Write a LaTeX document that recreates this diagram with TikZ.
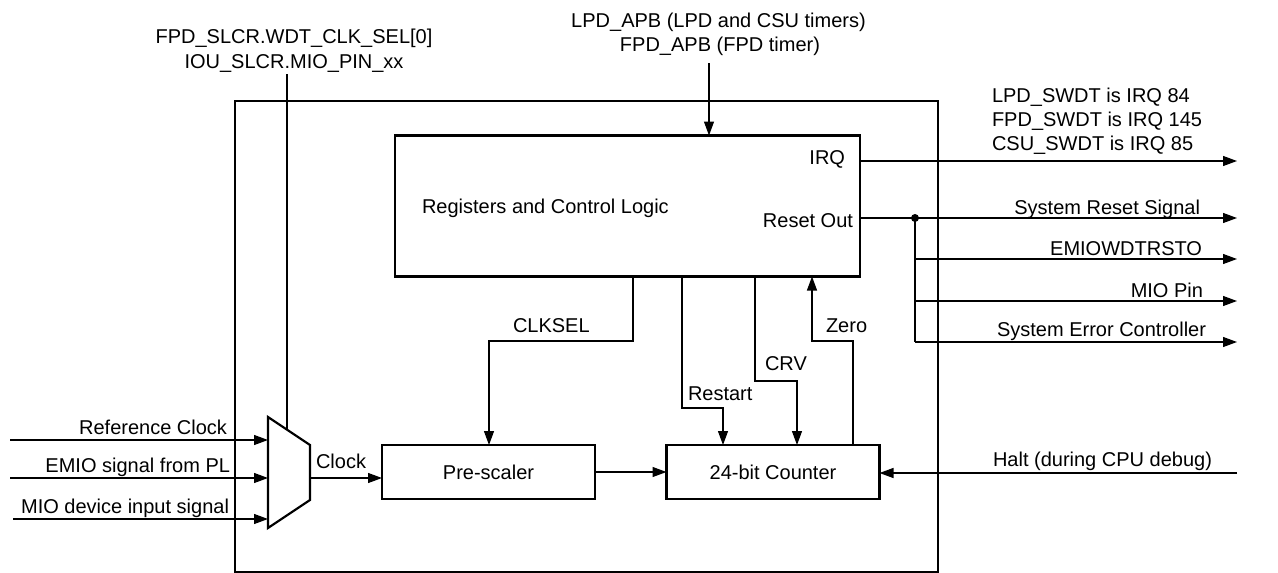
\documentclass[tikz,border=0pt]{standalone}
\usepackage{fontspec}
\setmainfont{Liberation Sans}
\usetikzlibrary{arrows.meta}
\begin{document}
\begin{tikzpicture}[x=1pt,y=-1pt,
  every node/.style={font=\fontsize{20}{24}\selectfont, inner sep=0pt, outer sep=0pt},
  blk/.style={draw, line width=2.2pt},
  conn/.style={line width=1.2pt},
  arr/.style={conn, -{Triangle[length=14pt,width=10pt]}},
  lbl/.style={anchor=base west},
  rlbl/.style={anchor=base east},
]
\useasboundingbox (0,0) rectangle (1278,573);

% outer block
\node[blk, minimum width=703pt, minimum height=471pt] (chip) at (586.5,336.5) {};
% inner blocks
\node[blk, minimum width=465pt, minimum height=141pt] (regs) at (627.5,206) {};
\node[blk, minimum width=213pt, minimum height=54pt] (pre) at (488.5,472) {Pre-scaler};
\node[blk, minimum width=213pt, minimum height=54pt] (cnt) at (773,472) {24-bit Counter};

\node[lbl] (regtxt) at (422,213) {Registers and Control Logic};
\node[rlbl] (irqtxt) at (845,164) {IRQ};
\node[rlbl] (rsttxt) at (853,227) {Reset Out};

% multiplexer
\draw[line width=2.2pt, line join=miter] (268,417) coordinate (mtl) -- (310,445) coordinate (mtr)
  -- (310,500) coordinate (mbr) -- (268,528) coordinate (mbl) -- cycle;
\coordinate (m1) at (268,440);
\coordinate (m2) at (268,478);
\coordinate (m3) at (268,519);
\coordinate (mout) at (310,478);
\coordinate (msel) at (287,430);

% left inputs
\coordinate (i1) at (10,440);
\coordinate (i2) at (10,478);
\coordinate (i3) at (13,519);
\draw[arr] (i1) -- (m1);
\draw[arr] (i2) -- (m2);
\draw[arr] (i3) -- (m3);
\node[rlbl] (t1) at (227,434) {Reference Clock};
\node[rlbl] (t2) at (230,472) {EMIO signal from PL};
\node[rlbl] (t3) at (229,513) {MIO device input signal};

% clock select
\node[anchor=base] (sel1) at (294,43) {FPD\_SLCR.WDT\_CLK\_SEL[0]};
\node[anchor=base] (sel2) at (294,68) {IOU\_SLCR.MIO\_PIN\_xx};
\coordinate (seltop) at (287,74);
\draw[conn] (seltop) -- (msel);

% clock to prescaler
\draw[arr] (mout) -- (mout -| pre.west);
\node[lbl] (clk) at (316,468) {Clock};
\draw[arr] (pre.east) -- (cnt.west);

% APB
\node[anchor=base] (apb1) at (718.5,27) {LPD\_APB (LPD and CSU timers)};
\node[anchor=base] (apb2) at (720,51) {FPD\_APB (FPD timer)};
\coordinate (apbtop) at (709,63);
\draw[arr] (apbtop) -- (apbtop |- regs.north);

% CLKSEL
\draw[arr] (633,276.5) -- (633,341) -- (489,341) -- (489,445);
\node[lbl] (clksel) at (513,332) {CLKSEL};
% Restart
\draw[arr] (682,276.5) -- (682,408) -- (723,408) -- (723,445);
\node[lbl] (restart) at (688,400) {Restart};
% CRV
\draw[arr] (755,276.5) -- (755,381) -- (797,381) -- (797,445);
\node[lbl] (crv) at (765,370) {CRV};
% Zero
\draw[arr] (853,445) -- (853,341) -- (812,341) -- (812,276.5);
\node[lbl] (zero) at (826,332) {Zero};

% Halt
\coordinate (halt) at (1237,473);
\draw[arr] (halt) -- (cnt.east |- halt);
\node[rlbl] (halttxt) at (1212,466) {Halt (during CPU debug)};

% IRQ output
\coordinate (irqo) at (1237,161);
\draw[arr] (regs.east |- irqo) -- (irqo);
\node[lbl] (q1) at (992,102) {LPD\_SWDT is IRQ 84};
\node[lbl] (q2) at (992,126) {FPD\_SWDT is IRQ 145};
\node[lbl] (q3) at (992,150) {CSU\_SWDT is IRQ 85};

% reset outputs
\coordinate (dot) at (915,218);
\coordinate (r1) at (1237,218);
\coordinate (r2) at (1237,259);
\coordinate (r3) at (1237,301);
\coordinate (r4) at (1237,342);
\draw[arr] (regs.east |- dot) -- (r1);
\fill (dot) circle (4pt);
\draw[conn] (dot) -- (dot |- r4);
\draw[arr] (dot |- r2) -- (r2);
\draw[arr] (dot |- r3) -- (r3);
\draw[arr] (dot |- r4) -- (r4);
\node[rlbl] (o1) at (1200,214) {System Reset Signal};
\node[rlbl] (o2) at (1202,255.5) {EMIOWDTRSTO};
\node[rlbl] (o3) at (1203,297) {MIO Pin};
\node[rlbl] (o4) at (1206,336) {System Error Controller};
\end{tikzpicture}
\end{document}
